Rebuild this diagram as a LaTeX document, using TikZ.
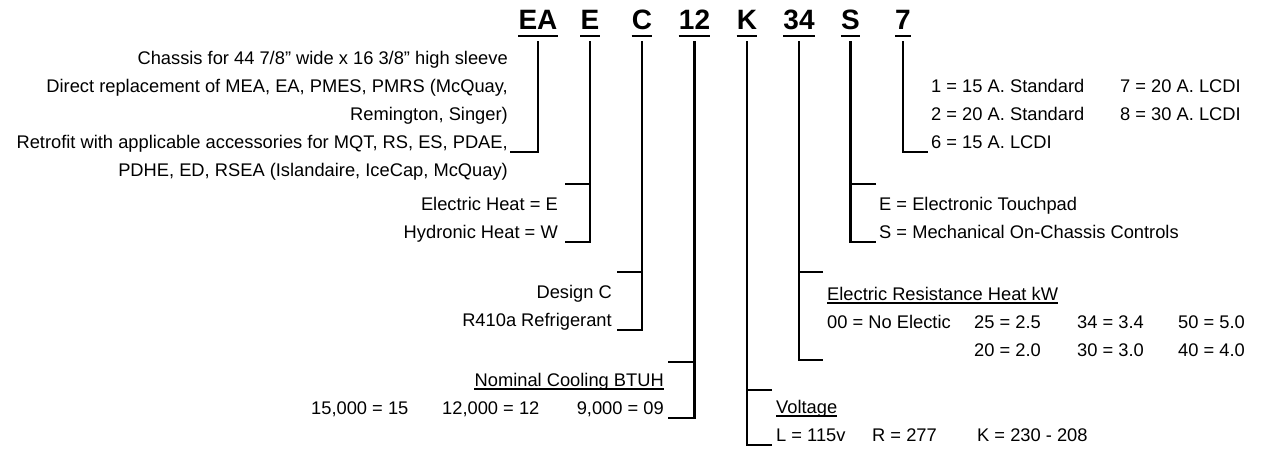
\documentclass[tikz,border=0pt]{standalone}
\usepackage{fontspec}
\setmainfont{Liberation Sans}
\begin{document}
\begin{tikzpicture}[x=1pt,y=-1pt,
  code/.style={anchor=base, inner sep=0pt, font=\fontsize{28}{30}\selectfont\bfseries},
  lbl/.style={inner sep=0pt, font=\fontsize{18.3}{20}\selectfont},
  lr/.style={lbl, anchor=base east},
  ll/.style={lbl, anchor=base west},
  conn/.style={line width=2.2pt, line join=miter},
  uline/.style={line width=2.4pt},
  hline/.style={line width=1.1pt}]
\useasboundingbox (0,0) rectangle (1283,450);
% code letters
\node[code] (cEA) at (538,29) {EA};
\node[code] (cE) at (590,29) {E};
\node[code] (cC) at (642,29) {C};
\node[code] (c12) at (694.5,29) {12};
\node[code] (cK) at (747,29) {K};
\node[code] (c34) at (799,29) {34};
\node[code] (cS) at (850.5,29) {S};
\node[code] (c7) at (903,29) {7};
\foreach \n in {cEA,cE,cC,c12,cK,c34,cS,c7}
  \draw[uline] ([yshift=-7pt]\n.base west) -- ([yshift=-7pt]\n.base east);
% bracket end points
\coordinate (eaB) at (510,152);
\coordinate (eT) at (565,184); \coordinate (eB) at (565,242);
\coordinate (cT) at (617,272); \coordinate (cB) at (617,330);
\coordinate (dT) at (668,362); \coordinate (dB) at (668,418);
\coordinate (kT) at (772,390); \coordinate (kB) at (772,445);
\coordinate (hT) at (823,272); \coordinate (hB) at (823,360);
\coordinate (sT) at (876,184); \coordinate (sB) at (876,242);
\coordinate (aB) at (928,152);
% connectors
\draw[conn] ([yshift=-12pt]cEA.base) |- (eaB);
\draw[conn] ([yshift=-12pt]cE.base) |- (eB);
\draw[conn] (eT) -- (eT -| cE.base);
\draw[conn] ([yshift=-12pt]cC.base) |- (cB);
\draw[conn] (cT) -- (cT -| cC.base);
\draw[conn] ([yshift=-12pt]c12.base) |- (dB);
\draw[conn] (dT) -- (dT -| c12.base);
\draw[conn] ([yshift=-12pt]cK.base) |- (kB);
\draw[conn] (kT) -- (kT -| cK.base);
\draw[conn] ([yshift=-12pt]c34.base) |- (hB);
\draw[conn] (hT) -- (hT -| c34.base);
\draw[conn] ([yshift=-12pt]cS.base) |- (sB);
\draw[conn] (sT) -- (sT -| cS.base);
\draw[conn] ([yshift=-12pt]c7.base) |- (aB);
% EA texts
\node[lr] (ea1) at (508,64) {Chassis for 44 7/8\char34{} wide x 16 3/8\char34{} high sleeve};
\node[lr] (ea2) at (508,92) {Direct replacement of MEA, EA, PMES, PMRS (McQuay,};
\node[lr] (ea3) at (508,120) {Remington, Singer)};
\node[lr] (ea4) at (508,148) {Retrofit with applicable accessories for MQT, RS, ES, PDAE,};
\node[lr] (ea5) at (508,176) {PDHE, ED, RSEA (Islandaire, IceCap, McQuay)};
% E texts
\node[lr] (e1) at (558,210) {Electric Heat = E};
\node[lr] (e2) at (558,238) {Hydronic Heat = W};
% C texts
\node[lr] (c1) at (612,298) {Design C};
\node[lr] (c2) at (612,326) {R410a Refrigerant};
% 12 texts
\node[lr] (n0) at (664,386) {Nominal Cooling BTUH};
\draw[hline] ([yshift=-3pt]n0.base west) -- ([yshift=-3pt]n0.base east);
\node[ll] (n1) at (311,414) {15,000 = 15};
\node[ll] (n2) at (442,414) {12,000 = 12};
\node[lr] (n3) at (664,414) {9,000 = 09};
% K texts
\node[ll] (v0) at (776,413) {Voltage};
\draw[hline] ([yshift=-3pt]v0.base west) -- ([yshift=-3pt]v0.base east);
\node[ll] (v1) at (776,441) {L = 115v};
\node[ll] (v2) at (872,441) {R = 277};
\node[ll] (v3) at (977,441) {K = 230 - 208};
% 34 texts
\node[ll] (h0) at (827,300) {Electric Resistance Heat kW};
\draw[hline] ([yshift=-3pt]h0.base west) -- ([yshift=-3pt]h0.base east);
\node[ll] (h1) at (827,328) {00 = No Electic};
\node[ll] (h2) at (974,328) {25 = 2.5};
\node[ll] (h3) at (1077,328) {34 = 3.4};
\node[ll] (h4) at (1178,328) {50 = 5.0};
\node[ll] (h5) at (974,356) {20 = 2.0};
\node[ll] (h6) at (1077,356) {30 = 3.0};
\node[ll] (h7) at (1178,356) {40 = 4.0};
% S texts
\node[ll] (s1) at (879,210) {E = Electronic Touchpad};
\node[ll] (s2) at (879,238) {S = Mechanical On-Chassis Controls};
% 7 texts
\node[ll] (a1) at (931,92) {1 = 15 A. Standard};
\node[ll] (a2) at (931,120) {2 = 20 A. Standard};
\node[ll] (a3) at (931,148) {6 = 15 A. LCDI};
\node[ll] (a4) at (1120,92) {7 = 20 A. LCDI};
\node[ll] (a5) at (1120,120) {8 = 30 A. LCDI};
\end{tikzpicture}
\end{document}
